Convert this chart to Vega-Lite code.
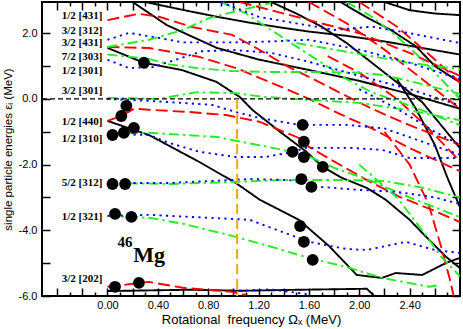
{
"$schema": "https://vega.github.io/schema/vega-lite/v6.json",
"width": 418, "height": 294,
"autosize": {"type": "none"},
"padding": {"left": 42, "top": 2, "right": 3, "bottom": 33},
"config": {
  "view": {"stroke": "black", "strokeWidth": 2},
  "font": "Liberation Sans",
  "axis": {"domain": false, "grid": false, "tickColor": "black", "tickWidth": 1.5, "labelFont": "Liberation Sans", "labelFontSize": 11, "labelColor": "black", "titleFont": "Liberation Sans", "titleFontWeight": "normal", "titleColor": "black", "labelOverlap": false, "labelFlush": false}
},
"resolve": {"axis": {"x": "independent", "y": "independent"}},
"datasets": {
"curves": [
{"c":"k1","t":"(+,+i)","w":0.3,"e":2.95},{"c":"k1","t":"(+,+i)","w":0.6,"e":2.71},{"c":"k1","t":"(+,+i)","w":0.87,"e":2.5},{"c":"k1","t":"(+,+i)","w":1.13,"e":2.32},{"c":"k1","t":"(+,+i)","w":1.4,"e":2.16},{"c":"k1","t":"(+,+i)","w":1.6,"e":2.05},{"c":"k1","t":"(+,+i)","w":1.9,"e":1.92},{"c":"k1","t":"(+,+i)","w":2.2,"e":1.75},{"c":"k1","t":"(+,+i)","w":2.5,"e":1.55},{"c":"k1","t":"(+,+i)","w":2.8,"e":1.35},
{"c":"k2","t":"(+,+i)","w":0,"e":1.55},{"c":"k2","t":"(+,+i)","w":0.29,"e":1.1},{"c":"k2","t":"(+,+i)","w":0.59,"e":0.88},{"c":"k2","t":"(+,+i)","w":0.865,"e":0.52},{"c":"k2","t":"(+,+i)","w":1.05,"e":0.06},{"c":"k2","t":"(+,+i)","w":1.15,"e":-0.33},{"c":"k2","t":"(+,+i)","w":1.37,"e":-1.0},{"c":"k2","t":"(+,+i)","w":1.58,"e":-1.61},{"c":"k2","t":"(+,+i)","w":1.71,"e":-2.07},{"c":"k2","t":"(+,+i)","w":1.86,"e":-2.4},{"c":"k2","t":"(+,+i)","w":2.06,"e":-2.71},{"c":"k2","t":"(+,+i)","w":2.21,"e":-3.07},{"c":"k2","t":"(+,+i)","w":2.4,"e":-3.68},{"c":"k2","t":"(+,+i)","w":2.5,"e":-4.08},{"c":"k2","t":"(+,+i)","w":2.69,"e":-4.81},{"c":"k2","t":"(+,+i)","w":2.8,"e":-5.15},
{"c":"k3","t":"(+,+i)","w":0,"e":-0.67},{"c":"k3","t":"(+,+i)","w":0.33,"e":-1.1},{"c":"k3","t":"(+,+i)","w":0.73,"e":-1.92},{"c":"k3","t":"(+,+i)","w":1.02,"e":-2.56},{"c":"k3","t":"(+,+i)","w":1.21,"e":-3.07},{"c":"k3","t":"(+,+i)","w":1.52,"e":-3.68},{"c":"k3","t":"(+,+i)","w":1.76,"e":-4.48},{"c":"k3","t":"(+,+i)","w":1.98,"e":-5.36},{"c":"k3","t":"(+,+i)","w":2.18,"e":-5.45},{"c":"k3","t":"(+,+i)","w":2.29,"e":-5.3},{"c":"k3","t":"(+,+i)","w":2.5,"e":-5.36},{"c":"k3","t":"(+,+i)","w":2.69,"e":-4.99},{"c":"k3","t":"(+,+i)","w":2.8,"e":-4.84},
{"c":"k4","t":"(+,+i)","w":0,"e":-5.85},{"c":"k4","t":"(+,+i)","w":0.65,"e":-5.81},{"c":"k4","t":"(+,+i)","w":1.07,"e":-5.84},{"c":"k4","t":"(+,+i)","w":1.52,"e":-5.81},{"c":"k4","t":"(+,+i)","w":2.06,"e":-5.78},{"c":"k4","t":"(+,+i)","w":2.12,"e":-6.0},
{"c":"k5","t":"(+,+i)","w":1.3,"e":2.95},{"c":"k5","t":"(+,+i)","w":1.5,"e":2.6},{"c":"k5","t":"(+,+i)","w":1.7,"e":2.2},{"c":"k5","t":"(+,+i)","w":1.9,"e":1.7},{"c":"k5","t":"(+,+i)","w":2.1,"e":1.1},{"c":"k5","t":"(+,+i)","w":2.3,"e":0.5},{"c":"k5","t":"(+,+i)","w":2.5,"e":-0.1},{"c":"k5","t":"(+,+i)","w":2.65,"e":-0.8},{"c":"k5","t":"(+,+i)","w":2.8,"e":-1.5},
{"c":"k6","t":"(+,+i)","w":1.85,"e":2.95},{"c":"k6","t":"(+,+i)","w":2.05,"e":2.5},{"c":"k6","t":"(+,+i)","w":2.25,"e":2.1},{"c":"k6","t":"(+,+i)","w":2.45,"e":1.6},{"c":"k6","t":"(+,+i)","w":2.6,"e":1.0},{"c":"k6","t":"(+,+i)","w":2.8,"e":0.5},
{"c":"k7","t":"(+,+i)","w":2.2,"e":2.95},{"c":"k7","t":"(+,+i)","w":2.4,"e":2.7},{"c":"k7","t":"(+,+i)","w":2.6,"e":2.6},{"c":"k7","t":"(+,+i)","w":2.8,"e":2.55},
{"c":"k8","t":"(+,+i)","w":0.2,"e":2.95},{"c":"k8","t":"(+,+i)","w":0.47,"e":2.25},{"c":"k8","t":"(+,+i)","w":0.87,"e":1.55},{"c":"k8","t":"(+,+i)","w":1.2,"e":1.2},{"c":"k8","t":"(+,+i)","w":1.6,"e":0.88},{"c":"k8","t":"(+,+i)","w":2.0,"e":0.55},{"c":"k8","t":"(+,+i)","w":2.4,"e":0.15},{"c":"k8","t":"(+,+i)","w":2.8,"e":-0.3},
{"c":"k9","t":"(+,+i)","w":2.3,"e":0.6},{"c":"k9","t":"(+,+i)","w":2.45,"e":-0.3},{"c":"k9","t":"(+,+i)","w":2.6,"e":-1.4},{"c":"k9","t":"(+,+i)","w":2.7,"e":-2.4},{"c":"k9","t":"(+,+i)","w":2.8,"e":-3.3},
{"c":"r1","t":"(-,+i)","w":0,"e":2.4},{"c":"r1","t":"(-,+i)","w":0.25,"e":2.59},{"c":"r1","t":"(-,+i)","w":0.41,"e":2.5},{"c":"r1","t":"(-,+i)","w":0.67,"e":2.19},{"c":"r1","t":"(-,+i)","w":0.99,"e":1.95},{"c":"r1","t":"(-,+i)","w":1.21,"e":1.49},{"c":"r1","t":"(-,+i)","w":1.44,"e":0.97},{"c":"r1","t":"(-,+i)","w":1.6,"e":0.67},{"c":"r1","t":"(-,+i)","w":1.84,"e":0.2},{"c":"r1","t":"(-,+i)","w":2.1,"e":-0.3},{"c":"r1","t":"(-,+i)","w":2.4,"e":-0.8},{"c":"r1","t":"(-,+i)","w":2.8,"e":-1.4},
{"c":"r2","t":"(-,+i)","w":1.05,"e":2.95},{"c":"r2","t":"(-,+i)","w":1.3,"e":2.7},{"c":"r2","t":"(-,+i)","w":1.6,"e":2.4},{"c":"r2","t":"(-,+i)","w":2.0,"e":2.0},{"c":"r2","t":"(-,+i)","w":2.4,"e":1.4},{"c":"r2","t":"(-,+i)","w":2.8,"e":0.7},
{"c":"r3","t":"(-,+i)","w":0,"e":1.58},{"c":"r3","t":"(-,+i)","w":0.33,"e":1.55},{"c":"r3","t":"(-,+i)","w":0.73,"e":1.28},{"c":"r3","t":"(-,+i)","w":1.02,"e":0.94},{"c":"r3","t":"(-,+i)","w":1.44,"e":0.27},{"c":"r3","t":"(-,+i)","w":1.6,"e":0.0},{"c":"r3","t":"(-,+i)","w":1.84,"e":-0.45},{"c":"r3","t":"(-,+i)","w":2.1,"e":-0.9},{"c":"r3","t":"(-,+i)","w":2.4,"e":-1.5},{"c":"r3","t":"(-,+i)","w":2.8,"e":-2.2},
{"c":"r4","t":"(-,+i)","w":0,"e":-0.67},{"c":"r4","t":"(-,+i)","w":0.11,"e":-0.52},{"c":"r4","t":"(-,+i)","w":0.21,"e":-0.3},{"c":"r4","t":"(-,+i)","w":0.33,"e":-0.33},{"c":"r4","t":"(-,+i)","w":0.65,"e":-0.4},{"c":"r4","t":"(-,+i)","w":0.94,"e":-0.49},{"c":"r4","t":"(-,+i)","w":1.21,"e":-0.7},{"c":"r4","t":"(-,+i)","w":1.52,"e":-1.19},{"c":"r4","t":"(-,+i)","w":1.6,"e":-1.46},{"c":"r4","t":"(-,+i)","w":1.78,"e":-1.86},{"c":"r4","t":"(-,+i)","w":2.06,"e":-2.47},{"c":"r4","t":"(-,+i)","w":2.32,"e":-2.98},{"c":"r4","t":"(-,+i)","w":2.58,"e":-3.38},{"c":"r4","t":"(-,+i)","w":2.8,"e":-3.75},
{"c":"r5","t":"(-,+i)","w":0,"e":-5.72},{"c":"r5","t":"(-,+i)","w":0.1,"e":-5.68},{"c":"r5","t":"(-,+i)","w":0.25,"e":-5.6},{"c":"r5","t":"(-,+i)","w":0.33,"e":-5.57},{"c":"r5","t":"(-,+i)","w":0.6,"e":-5.75},{"c":"r5","t":"(-,+i)","w":0.99,"e":-5.87},{"c":"r5","t":"(-,+i)","w":1.1,"e":-5.97},
{"c":"r6","t":"(-,+i)","w":1.6,"e":2.95},{"c":"r6","t":"(-,+i)","w":1.9,"e":2.3},{"c":"r6","t":"(-,+i)","w":2.2,"e":1.5},{"c":"r6","t":"(-,+i)","w":2.5,"e":0.6},{"c":"r6","t":"(-,+i)","w":2.8,"e":-0.3},
{"c":"r7","t":"(-,+i)","w":2.0,"e":2.95},{"c":"r7","t":"(-,+i)","w":2.3,"e":2.2},{"c":"r7","t":"(-,+i)","w":2.6,"e":1.2},{"c":"r7","t":"(-,+i)","w":2.8,"e":0.5},
{"c":"r8","t":"(-,+i)","w":2.2,"e":-1.0},{"c":"r8","t":"(-,+i)","w":2.4,"e":-2.0},{"c":"r8","t":"(-,+i)","w":2.55,"e":-3.2},{"c":"r8","t":"(-,+i)","w":2.65,"e":-4.5},{"c":"r8","t":"(-,+i)","w":2.72,"e":-5.5},{"c":"r8","t":"(-,+i)","w":2.75,"e":-6.0},
{"c":"r9","t":"(-,+i)","w":1.75,"e":1.3},{"c":"r9","t":"(-,+i)","w":2.0,"e":0.8},{"c":"r9","t":"(-,+i)","w":2.3,"e":0.0},{"c":"r9","t":"(-,+i)","w":2.55,"e":-0.9},{"c":"r9","t":"(-,+i)","w":2.8,"e":-1.9},
{"c":"g1","t":"(-,-i)","w":0,"e":1.58},{"c":"g1","t":"(-,-i)","w":0.33,"e":1.8},{"c":"g1","t":"(-,-i)","w":0.6,"e":2.1},{"c":"g1","t":"(-,-i)","w":0.8,"e":2.45},{"c":"g1","t":"(-,-i)","w":1.0,"e":2.65},{"c":"g1","t":"(-,-i)","w":1.3,"e":2.92},
{"c":"g2","t":"(-,-i)","w":0,"e":1.35},{"c":"g2","t":"(-,-i)","w":0.33,"e":1.22},{"c":"g2","t":"(-,-i)","w":0.49,"e":1.05},{"c":"g2","t":"(-,-i)","w":0.73,"e":0.93},{"c":"g2","t":"(-,-i)","w":0.99,"e":0.85},{"c":"g2","t":"(-,-i)","w":1.3,"e":0.82},{"c":"g2","t":"(-,-i)","w":1.6,"e":0.82},{"c":"g2","t":"(-,-i)","w":2.0,"e":0.8},{"c":"g2","t":"(-,-i)","w":2.2,"e":0.72},{"c":"g2","t":"(-,-i)","w":2.5,"e":0.45},{"c":"g2","t":"(-,-i)","w":2.8,"e":0.15},
{"c":"g3","t":"(-,-i)","w":0,"e":0.03},{"c":"g3","t":"(-,-i)","w":0.4,"e":0.0},{"c":"g3","t":"(-,-i)","w":0.7,"e":0.2},{"c":"g3","t":"(-,-i)","w":1.0,"e":0.18},{"c":"g3","t":"(-,-i)","w":1.25,"e":0.06},{"c":"g3","t":"(-,-i)","w":1.6,"e":-0.03},{"c":"g3","t":"(-,-i)","w":2.0,"e":-0.12},{"c":"g3","t":"(-,-i)","w":2.4,"e":-0.35},{"c":"g3","t":"(-,-i)","w":2.8,"e":-0.65},
{"c":"g4","t":"(-,-i)","w":0,"e":-1.07},{"c":"g4","t":"(-,-i)","w":0.33,"e":-1.03},{"c":"g4","t":"(-,-i)","w":0.87,"e":-1.16},{"c":"g4","t":"(-,-i)","w":1.39,"e":-1.55},{"c":"g4","t":"(-,-i)","w":1.6,"e":-1.75},{"c":"g4","t":"(-,-i)","w":1.8,"e":-2.1},{"c":"g4","t":"(-,-i)","w":2.1,"e":-2.5},{"c":"g4","t":"(-,-i)","w":2.4,"e":-3.0},{"c":"g4","t":"(-,-i)","w":2.8,"e":-3.6},
{"c":"g5","t":"(-,-i)","w":0,"e":-2.56},{"c":"g5","t":"(-,-i)","w":0.49,"e":-2.59},{"c":"g5","t":"(-,-i)","w":0.99,"e":-2.53},{"c":"g5","t":"(-,-i)","w":1.39,"e":-2.47},{"c":"g5","t":"(-,-i)","w":1.6,"e":-2.47},{"c":"g5","t":"(-,-i)","w":1.9,"e":-2.47},{"c":"g5","t":"(-,-i)","w":2.2,"e":-2.5},{"c":"g5","t":"(-,-i)","w":2.5,"e":-2.7},{"c":"g5","t":"(-,-i)","w":2.8,"e":-3.0},
{"c":"g6","t":"(-,-i)","w":0,"e":-3.56},{"c":"g6","t":"(-,-i)","w":0.33,"e":-3.62},{"c":"g6","t":"(-,-i)","w":0.6,"e":-3.8},{"c":"g6","t":"(-,-i)","w":0.99,"e":-4.17},{"c":"g6","t":"(-,-i)","w":1.3,"e":-4.5},{"c":"g6","t":"(-,-i)","w":1.6,"e":-4.84},{"c":"g6","t":"(-,-i)","w":1.92,"e":-5.14},{"c":"g6","t":"(-,-i)","w":2.18,"e":-5.45},{"c":"g6","t":"(-,-i)","w":2.56,"e":-5.72},{"c":"g6","t":"(-,-i)","w":2.64,"e":-5.66},
{"c":"g7","t":"(-,-i)","w":2.0,"e":-2.0},{"c":"g7","t":"(-,-i)","w":2.3,"e":-3.0},{"c":"g7","t":"(-,-i)","w":2.5,"e":-4.0},{"c":"g7","t":"(-,-i)","w":2.65,"e":-4.8},{"c":"g7","t":"(-,-i)","w":2.8,"e":-5.4},
{"c":"g8","t":"(-,-i)","w":0.9,"e":2.95},{"c":"g8","t":"(-,-i)","w":1.1,"e":2.6},{"c":"g8","t":"(-,-i)","w":1.3,"e":2.1},{"c":"g8","t":"(-,-i)","w":1.5,"e":1.6},{"c":"g8","t":"(-,-i)","w":1.7,"e":1.1},{"c":"g8","t":"(-,-i)","w":1.9,"e":0.6},{"c":"g8","t":"(-,-i)","w":2.1,"e":0.2},{"c":"g8","t":"(-,-i)","w":2.4,"e":-0.2},{"c":"g8","t":"(-,-i)","w":2.8,"e":-0.8},
{"c":"g9","t":"(-,-i)","w":1.9,"e":2.95},{"c":"g9","t":"(-,-i)","w":2.1,"e":2.5},{"c":"g9","t":"(-,-i)","w":2.3,"e":1.9},{"c":"g9","t":"(-,-i)","w":2.5,"e":1.2},{"c":"g9","t":"(-,-i)","w":2.7,"e":0.4},{"c":"g9","t":"(-,-i)","w":2.8,"e":0.0},
{"c":"g10","t":"(-,-i)","w":1.5,"e":1.7},{"c":"g10","t":"(-,-i)","w":1.8,"e":1.5},{"c":"g10","t":"(-,-i)","w":2.1,"e":1.3},{"c":"g10","t":"(-,-i)","w":2.4,"e":1.1},{"c":"g10","t":"(-,-i)","w":2.8,"e":0.9},
{"c":"b1","t":"(+,-i)","w":0,"e":1.8},{"c":"b1","t":"(+,-i)","w":0.17,"e":2.01},{"c":"b1","t":"(+,-i)","w":0.36,"e":1.89},{"c":"b1","t":"(+,-i)","w":0.6,"e":1.72},{"c":"b1","t":"(+,-i)","w":1.0,"e":1.72},{"c":"b1","t":"(+,-i)","w":1.3,"e":1.75},{"c":"b1","t":"(+,-i)","w":1.6,"e":1.8},{"c":"b1","t":"(+,-i)","w":2.0,"e":1.5},{"c":"b1","t":"(+,-i)","w":2.4,"e":1.1},{"c":"b1","t":"(+,-i)","w":2.8,"e":0.6},
{"c":"b2","t":"(+,-i)","w":0,"e":1.19},{"c":"b2","t":"(+,-i)","w":0.17,"e":0.94},{"c":"b2","t":"(+,-i)","w":0.36,"e":0.97},{"c":"b2","t":"(+,-i)","w":0.55,"e":1.2},{"c":"b2","t":"(+,-i)","w":0.75,"e":1.45},{"c":"b2","t":"(+,-i)","w":1.0,"e":1.49},{"c":"b2","t":"(+,-i)","w":1.3,"e":1.4},{"c":"b2","t":"(+,-i)","w":1.6,"e":1.13},{"c":"b2","t":"(+,-i)","w":2.0,"e":0.7},{"c":"b2","t":"(+,-i)","w":2.4,"e":0.3},{"c":"b2","t":"(+,-i)","w":2.8,"e":-0.2},
{"c":"b3","t":"(+,-i)","w":0.9,"e":2.95},{"c":"b3","t":"(+,-i)","w":1.2,"e":2.5},{"c":"b3","t":"(+,-i)","w":1.5,"e":2.3},{"c":"b3","t":"(+,-i)","w":1.8,"e":2.1},{"c":"b3","t":"(+,-i)","w":2.1,"e":2.2},{"c":"b3","t":"(+,-i)","w":2.4,"e":2.0},{"c":"b3","t":"(+,-i)","w":2.8,"e":1.7},
{"c":"b4","t":"(+,-i)","w":0,"e":0.0},{"c":"b4","t":"(+,-i)","w":0.33,"e":-0.06},{"c":"b4","t":"(+,-i)","w":0.83,"e":-0.18},{"c":"b4","t":"(+,-i)","w":1.02,"e":-0.4},{"c":"b4","t":"(+,-i)","w":1.21,"e":-0.58},{"c":"b4","t":"(+,-i)","w":1.52,"e":-0.79},{"c":"b4","t":"(+,-i)","w":1.9,"e":-0.79},{"c":"b4","t":"(+,-i)","w":2.2,"e":-0.9},{"c":"b4","t":"(+,-i)","w":2.5,"e":-1.3},{"c":"b4","t":"(+,-i)","w":2.8,"e":-1.7},
{"c":"b5","t":"(+,-i)","w":0,"e":-1.07},{"c":"b5","t":"(+,-i)","w":0.33,"e":-1.1},{"c":"b5","t":"(+,-i)","w":0.49,"e":-1.34},{"c":"b5","t":"(+,-i)","w":0.73,"e":-1.61},{"c":"b5","t":"(+,-i)","w":1.02,"e":-1.77},{"c":"b5","t":"(+,-i)","w":1.25,"e":-1.77},{"c":"b5","t":"(+,-i)","w":1.44,"e":-1.64},{"c":"b5","t":"(+,-i)","w":1.58,"e":-1.49},{"c":"b5","t":"(+,-i)","w":1.92,"e":-1.49},{"c":"b5","t":"(+,-i)","w":2.18,"e":-1.55},{"c":"b5","t":"(+,-i)","w":2.4,"e":-1.8},{"c":"b5","t":"(+,-i)","w":2.8,"e":-1.8},
{"c":"b6","t":"(+,-i)","w":0,"e":-2.56},{"c":"b6","t":"(+,-i)","w":0.49,"e":-2.56},{"c":"b6","t":"(+,-i)","w":1.13,"e":-2.44},{"c":"b6","t":"(+,-i)","w":1.44,"e":-2.47},{"c":"b6","t":"(+,-i)","w":1.7,"e":-2.68},{"c":"b6","t":"(+,-i)","w":2.0,"e":-2.77},{"c":"b6","t":"(+,-i)","w":2.3,"e":-2.83},{"c":"b6","t":"(+,-i)","w":2.6,"e":-3.0},{"c":"b6","t":"(+,-i)","w":2.8,"e":-3.2},
{"c":"b7","t":"(+,-i)","w":0,"e":-3.56},{"c":"b7","t":"(+,-i)","w":0.33,"e":-3.53},{"c":"b7","t":"(+,-i)","w":1.13,"e":-3.68},{"c":"b7","t":"(+,-i)","w":1.6,"e":-4.35},{"c":"b7","t":"(+,-i)","w":1.9,"e":-4.57},{"c":"b7","t":"(+,-i)","w":2.06,"e":-4.6},{"c":"b7","t":"(+,-i)","w":2.37,"e":-4.35},{"c":"b7","t":"(+,-i)","w":2.6,"e":-4.6},{"c":"b7","t":"(+,-i)","w":2.8,"e":-4.69},
{"c":"b8","t":"(+,-i)","w":1.0,"e":-5.85},{"c":"b8","t":"(+,-i)","w":1.3,"e":-5.8},{"c":"b8","t":"(+,-i)","w":1.6,"e":-5.95},
{"c":"b9","t":"(+,-i)","w":2.0,"e":0.3},{"c":"b9","t":"(+,-i)","w":2.3,"e":-0.3},{"c":"b9","t":"(+,-i)","w":2.6,"e":-1.0},{"c":"b9","t":"(+,-i)","w":2.8,"e":-1.4}
],
"dots": [
{"w":0.29,"e":1.1},{"w":0.15,"e":-0.21},{"w":0.11,"e":-0.52},{"w":0.21,"e":-0.88},{"w":0.13,"e":-1.03},{"w":0.04,"e":-1.1},{"w":0.04,"e":-2.59},{"w":0.14,"e":-2.59},{"w":0.06,"e":-3.5},{"w":0.19,"e":-3.59},{"w":0.06,"e":-5.72},{"w":0.25,"e":-5.6},
{"w":1.55,"e":-0.79},{"w":1.56,"e":-1.3},{"w":1.47,"e":-1.61},{"w":1.56,"e":-1.77},{"w":1.71,"e":-2.07},{"w":1.54,"e":-2.44},{"w":1.62,"e":-2.68},{"w":1.53,"e":-3.87},{"w":1.56,"e":-4.35},{"w":1.63,"e":-4.9}
],
"labels": [
{"w":-0.04,"e":2.53,"lab":"1/2 [431]"},{"w":-0.04,"e":2.07,"lab":"3/2 [312]"},{"w":-0.04,"e":1.7,"lab":"3/2 [431]"},{"w":-0.04,"e":1.28,"lab":"7/2 [303]"},{"w":-0.04,"e":0.85,"lab":"1/2 [301]"},{"w":-0.04,"e":0.24,"lab":"3/2 [301]"},{"w":-0.04,"e":-0.7,"lab":"1/2 [440]"},{"w":-0.04,"e":-1.22,"lab":"1/2 [310]"},{"w":-0.04,"e":-2.56,"lab":"5/2 [312]"},{"w":-0.04,"e":-3.59,"lab":"1/2 [321]"},{"w":-0.04,"e":-5.48,"lab":"3/2 [202]"}
]
},
"layer": [
{
 "data": {"name": "curves"},
 "mark": {"type": "line", "clip": true, "strokeWidth": 1.9, "strokeCap": "butt"},
 "encoding": {
  "x": {"field": "w", "type": "quantitative", "scale": {"domain": [-0.52, 2.8], "nice": false, "zero": false},
        "axis": {"orient": "bottom", "values": [-0.4,-0.2,0,0.2,0.4,0.6,0.8,1.0,1.2,1.4,1.6,1.8,2.0,2.2,2.4,2.6], "tickSize": -8, "labelPadding": 11,
                 "labelExpr": "datum.value > -0.01 && round(datum.value * 10) % 4 == 0 ? format(datum.value, '.2f') : ''",
                 "title": "Rotational\u00a0 frequency Ωₓ (MeV)", "titleFontSize": 13, "titlePadding": 3}},
  "y": {"field": "e", "type": "quantitative", "scale": {"domain": [-6, 2.95], "nice": false, "zero": false},
        "axis": {"orient": "left", "values": [-6,-5,-4,-3,-2,-1,0,1,2], "tickSize": -8, "labelPadding": 13,
                 "labelExpr": "round(datum.value) % 2 == 0 ? (datum.value < 0 ? '-' : '') + format(abs(datum.value), '.1f') : ''",
                 "title": "single particle energies εᵢ (MeV)", "titleFontSize": 11.5, "titlePadding": 5}},
  "detail": {"field": "c"},
  "color": {"field": "t", "type": "nominal", "scale": {"domain": ["(+,+i)","(+,-i)","(-,+i)","(-,-i)"], "range": ["#000000","#0000ff","#ff0000","#22ee22"]}, "legend": null},
  "strokeDash": {"field": "t", "type": "nominal", "scale": {"domain": ["(+,+i)","(+,-i)","(-,+i)","(-,-i)"], "range": [[1,0],[2.2,4.3],[12,5],[10,4,2.5,4]]}, "legend": null}
 }
},
{
 "data": {"values": [{"w0": -0.52, "w1": 2.8, "e": 0}]},
 "mark": {"type": "rule", "color": "black", "strokeWidth": 1.2, "strokeDash": [5,3]},
 "encoding": {
  "x": {"field": "w0", "type": "quantitative", "scale": {"domain": [-0.52, 2.8], "nice": false, "zero": false},
        "axis": {"orient": "bottom", "values": [-0.3,-0.1,0.1,0.3,0.5,0.7,0.9,1.1,1.3,1.5,1.7,1.9,2.1,2.3,2.5,2.7], "tickSize": -4, "labels": false, "title": null}},
  "x2": {"field": "w1"},
  "y": {"field": "e", "type": "quantitative", "scale": {"domain": [-6, 2.95], "nice": false, "zero": false},
        "axis": {"orient": "right", "values": [-6,-5,-4,-3,-2,-1,0,1,2], "tickSize": -8, "labels": false, "title": null}}
 }
},
{
 "data": {"values": [{"w": 1.03, "e0": 0, "e1": -6}]},
 "mark": {"type": "rule", "color": "#ffa500", "strokeWidth": 2, "strokeDash": [10,5]},
 "encoding": {
  "x": {"field": "w", "type": "quantitative", "scale": {"domain": [-0.52, 2.8], "nice": false, "zero": false},
        "axis": {"orient": "top", "values": [-0.4,-0.2,0,0.2,0.4,0.6,0.8,1.0,1.2,1.4,1.6,1.8,2.0,2.2,2.4,2.6], "tickSize": -8, "labels": false, "title": null}},
  "y": {"field": "e0", "type": "quantitative", "scale": {"domain": [-6, 2.95], "nice": false, "zero": false}, "axis": null},
  "y2": {"field": "e1"}
 }
},
{
 "data": {"name": "dots"},
 "mark": {"type": "circle", "size": 140, "color": "black", "opacity": 1},
 "encoding": {
  "x": {"field": "w", "type": "quantitative", "scale": {"domain": [-0.52, 2.8], "nice": false, "zero": false},
        "axis": {"orient": "top", "values": [-0.3,-0.1,0.1,0.3,0.5,0.7,0.9,1.1,1.3,1.5,1.7,1.9,2.1,2.3,2.5,2.7], "tickSize": -4, "labels": false, "title": null}},
  "y": {"field": "e", "type": "quantitative", "scale": {"domain": [-6, 2.95], "nice": false, "zero": false}, "axis": null}
 }
},
{
 "data": {"name": "labels"},
 "mark": {"type": "text", "align": "right", "baseline": "middle", "font": "Liberation Serif", "fontWeight": "bold", "fontSize": 11, "color": "black"},
 "encoding": {
  "x": {"field": "w", "type": "quantitative", "scale": {"domain": [-0.52, 2.8], "nice": false, "zero": false}, "axis": null},
  "y": {"field": "e", "type": "quantitative", "scale": {"domain": [-6, 2.95], "nice": false, "zero": false}, "axis": null},
  "text": {"field": "lab"}
 }
},
{
 "data": {"values": [{"w": 0.08, "e": -4.5, "lab": "46"}]},
 "mark": {"type": "text", "align": "left", "baseline": "alphabetic", "font": "Liberation Serif", "fontWeight": "bold", "fontSize": 15, "color": "black"},
 "encoding": {
  "x": {"field": "w", "type": "quantitative", "scale": {"domain": [-0.52, 2.8], "nice": false, "zero": false}, "axis": null},
  "y": {"field": "e", "type": "quantitative", "scale": {"domain": [-6, 2.95], "nice": false, "zero": false}, "axis": null},
  "text": {"field": "lab"}
 }
},
{
 "data": {"values": [{"w": 0.205, "e": -4.96, "lab": "Mg"}]},
 "mark": {"type": "text", "align": "left", "baseline": "alphabetic", "font": "Liberation Serif", "fontWeight": "bold", "fontSize": 22, "color": "black"},
 "encoding": {
  "x": {"field": "w", "type": "quantitative", "scale": {"domain": [-0.52, 2.8], "nice": false, "zero": false}, "axis": null},
  "y": {"field": "e", "type": "quantitative", "scale": {"domain": [-6, 2.95], "nice": false, "zero": false}, "axis": null},
  "text": {"field": "lab"}
 }
}
]
}
